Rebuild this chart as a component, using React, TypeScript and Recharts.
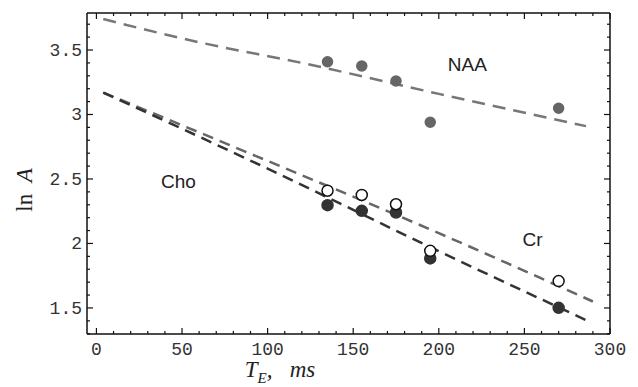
import {
  ComposedChart,
  Line,
  Scatter,
  XAxis,
  YAxis,
  ReferenceDot,
} from "recharts";

// echo times (ms) of the measured points
const echoTimes = [135, 155, 175, 195, 270];
const naaValues = [3.409, 3.376, 3.26, 2.94, 3.048];
const crValues = [2.409, 2.376, 2.304, 1.943, 1.708];
const choValues = [2.297, 2.253, 2.24, 1.884, 1.501];

// fitted curves
const naaFitTimes = [4, 60, 120, 200, 286];
const naaFitValues = [3.74, 3.56, 3.4, 3.16, 2.91];
const crFitTimes = [4, 100, 200, 290];
const crFitValues = [3.17, 2.64, 2.08, 1.55];
const choFitTimes = [4, 100, 200, 287];
const choFitValues = [3.17, 2.58, 1.94, 1.4];

const xTicks = [
  0, 10, 20, 30, 40, 50, 60, 70, 80, 90, 100, 110, 120, 130, 140, 150, 160,
  170, 180, 190, 200, 210, 220, 230, 240, 250, 260, 270, 280, 290, 300,
];
const yTicks = [
  1.3, 1.4, 1.5, 1.6, 1.7, 1.8, 1.9, 2, 2.1, 2.2, 2.3, 2.4, 2.5, 2.6, 2.7, 2.8,
  2.9, 3, 3.1, 3.2, 3.3, 3.4, 3.5, 3.6, 3.7,
];

const annotations = [
  { name: "NAA", x: 216.7, y: 3.39 },
  { name: "Cho", x: 47.9, y: 2.485 },
  { name: "Cr", x: 254.7, y: 2.03 },
];

const pts = (xs: number[], ys: number[]) =>
  xs.map((x, i) => ({ x, y: ys[i] }));

const naaPoints = pts(echoTimes, naaValues);
const crPoints = pts(echoTimes, crValues);
const choPoints = pts(echoTimes, choValues);
const naaFit = pts(naaFitTimes, naaFitValues);
const crFit = pts(crFitTimes, crFitValues);
const choFit = pts(choFitTimes, choFitValues);

const tickFont = "'Liberation Mono', 'Courier New', monospace";
const serif = "'Liberation Serif', 'Times New Roman', serif";
const isMajorX = (v: number) => v % 50 === 0;
const isMajorY = (v: number) => Math.abs(v * 2 - Math.round(v * 2)) < 1e-6;

function makeTick(side: "bottom" | "top" | "left" | "right") {
  // eslint-disable-next-line @typescript-eslint/no-explicit-any
  return (props: any) => {
    const { x, y, payload } = props;
    const v = payload.value as number;
    const major = side === "bottom" || side === "top" ? isMajorX(v) : isMajorY(v);
    const len = major ? 6 : 3;
    let x2 = x;
    let y2 = y;
    if (side === "bottom") y2 = y - len;
    if (side === "top") y2 = y + len;
    if (side === "left") x2 = x + len;
    if (side === "right") x2 = x - len;
    return (
      <g>
        <line x1={x} y1={y} x2={x2} y2={y2} stroke="#111" strokeWidth={1.2} />
        {major && side === "bottom" && (
          <text
            x={x}
            y={y + 21}
            textAnchor="middle"
            fontFamily={tickFont}
            fontSize={18}
            fill="#333"
          >
            {v}
          </text>
        )}
        {major && side === "left" && (
          <text
            x={x - 5}
            y={y + 6}
            textAnchor="end"
            fontFamily={tickFont}
            fontSize={18}
            fill="#333"
          >
            {v}
          </text>
        )}
      </g>
    );
  };
}

// eslint-disable-next-line @typescript-eslint/no-explicit-any
const dot = (fill: string, stroke: string, r: number) => (p: any) =>
  <circle cx={p.cx} cy={p.cy} r={r} fill={fill} stroke={stroke} strokeWidth={1.5} />;

export default function App() {
  return (
    <div style={{ position: "absolute", left: 0, top: 0, background: "#fff" }}>
      <ComposedChart
        width={638}
        height={387}
        margin={{ top: 8, right: 18, bottom: 23, left: 27 }}
      >
        <XAxis
          type="number"
          dataKey="x"
          domain={[-5.5, 300]}
          ticks={xTicks}
          interval={0}
          height={30}
          tickSize={0}
          tickMargin={0}
          tickLine={false}
          axisLine={{ stroke: "#111", strokeWidth: 1.5 }}
          tick={makeTick("bottom")}
          allowDataOverflow
        />
        <XAxis
          xAxisId="top"
          orientation="top"
          type="number"
          dataKey="x"
          domain={[-5.5, 300]}
          ticks={xTicks}
          interval={0}
          height={5}
          tickSize={0}
          tickMargin={0}
          tickLine={false}
          axisLine={{ stroke: "#111", strokeWidth: 1.5 }}
          tick={makeTick("top")}
          allowDataOverflow
        />
        <YAxis
          type="number"
          dataKey="y"
          domain={[1.298, 3.787]}
          ticks={yTicks}
          interval={0}
          width={60}
          tickSize={0}
          tickMargin={0}
          tickLine={false}
          axisLine={{ stroke: "#111", strokeWidth: 1.5 }}
          tick={makeTick("left")}
          allowDataOverflow
        />
        <YAxis
          yAxisId="right"
          orientation="right"
          type="number"
          dataKey="y"
          domain={[1.298, 3.787]}
          ticks={yTicks}
          interval={0}
          width={10}
          tickSize={0}
          tickMargin={0}
          tickLine={false}
          axisLine={{ stroke: "#111", strokeWidth: 1.5 }}
          tick={makeTick("right")}
          allowDataOverflow
        />

        {/* fitted dashed curves */}
        <Line
          data={naaFit}
          dataKey="y"
          type="monotone"
          stroke="#777"
          strokeWidth={2.5}
          strokeDasharray="13 8"
          dot={false}
          isAnimationActive={false}
        />
        <Line
          data={crFit}
          dataKey="y"
          type="monotone"
          stroke="#666"
          strokeWidth={2.5}
          strokeDasharray="11 7"
          dot={false}
          isAnimationActive={false}
        />
        <Line
          data={choFit}
          dataKey="y"
          type="monotone"
          stroke="#333"
          strokeWidth={2.5}
          strokeDasharray="11 7"
          dot={false}
          isAnimationActive={false}
        />

        {/* measured points */}
        <Scatter
          data={naaPoints}
          dataKey="y"
          shape={dot("#666", "#666", 5)}
          isAnimationActive={false}
        />
        <Scatter
          data={choPoints}
          dataKey="y"
          shape={dot("#333", "#333", 5.5)}
          isAnimationActive={false}
        />
        <Scatter
          data={crPoints}
          dataKey="y"
          shape={dot("#fff", "#111", 5.5)}
          isAnimationActive={false}
        />

        {annotations.map((a) => (
          <ReferenceDot
            key={a.name}
            x={a.x}
            y={a.y}
            r={0}
            stroke="none"
            fill="none"
            label={{
              value: a.name,
              position: "center",
              fill: "#222",
              fontSize: 19,
              fontFamily: "'Liberation Sans', Arial, sans-serif",
            }}
          />
        ))}

        <text
          x={280}
          y={377}
          textAnchor="middle"
          fontFamily={serif}
          fontStyle="italic"
          fontSize={23}
          fill="#222"
          style={{ whiteSpace: "pre" }}
        >
          T
          <tspan fontSize={15} dy={6}>
            E
          </tspan>
          <tspan dy={-6}>{",   ms"}</tspan>
        </text>
        <text
          transform="translate(32,190) rotate(-90)"
          textAnchor="middle"
          fontFamily={serif}
          fontSize={23}
          fill="#222"
          style={{ whiteSpace: "pre" }}
        >
          {"ln  "}
          <tspan fontStyle="italic">A</tspan>
        </text>
      </ComposedChart>
    </div>
  );
}
